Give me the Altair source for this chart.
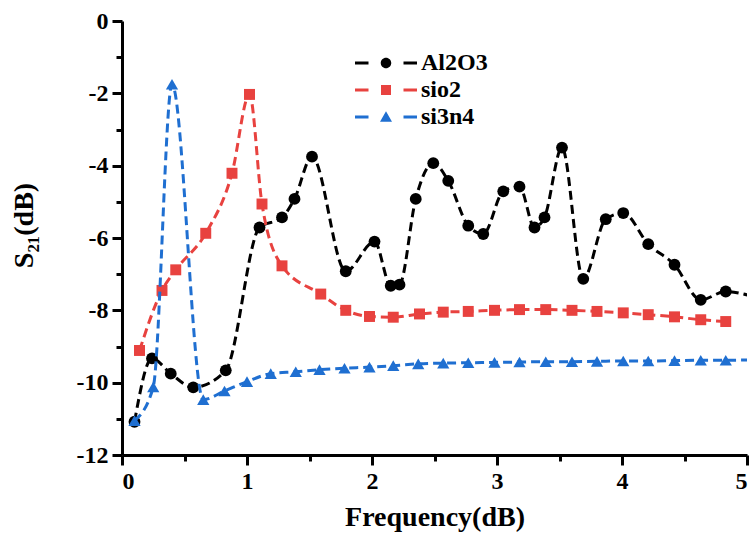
import altair as alt
import pandas as pd

# ---------------- data ----------------
series_names = ["Al2O3", "sio2", "si3n4"]
series_colors = ["#000000", "#E8423F", "#1F6FD1"]
series_shapes = ["circle", "square", "triangle-up"]

al2o3_x = [0.10, 0.24, 0.39, 0.57, 0.83, 1.10, 1.28, 1.38, 1.52, 1.79, 2.02, 2.15, 2.22,
           2.35, 2.49, 2.61, 2.77, 2.89, 3.05, 3.18, 3.30, 3.38, 3.52, 3.69, 3.87, 4.01,
           4.21, 4.42, 4.63, 4.83]
al2o3_y = [-11.08, -9.33, -9.75, -10.13, -9.66, -5.71, -5.43, -4.92, -3.75, -6.92, -6.10,
           -7.32, -7.29, -4.92, -3.93, -4.42, -5.66, -5.89, -4.71, -4.58, -5.71, -5.43,
           -3.50, -7.13, -5.48, -5.31, -6.17, -6.74, -7.71, -7.48]
al2o3_tail_x = [5.05]
al2o3_tail_y = [-7.62]

sio2_x = [0.14, 0.32, 0.43, 0.67, 0.88, 1.02, 1.12, 1.28, 1.59, 1.79, 1.98, 2.17, 2.38,
          2.57, 2.77, 2.98, 3.18, 3.39, 3.60, 3.80, 4.01, 4.21, 4.42, 4.63, 4.83]
sio2_y = [-9.11, -7.45, -6.88, -5.87, -4.21, -2.03, -5.06, -6.77, -7.55, -8.00, -8.17,
          -8.19, -8.10, -8.05, -8.03, -8.00, -7.98, -7.98, -8.00, -8.03, -8.07, -8.12,
          -8.18, -8.26, -8.31]
sio2_tail_x = []
sio2_tail_y = []

si3n4_x = [0.10, 0.25, 0.40, 0.65, 0.82, 1.00, 1.19, 1.39, 1.58, 1.78, 1.98, 2.17, 2.37,
           2.57, 2.77, 2.98, 3.18, 3.39, 3.60, 3.80, 4.01, 4.21, 4.42, 4.63, 4.83]
si3n4_y = [-11.05, -10.12, -1.75, -10.47, -10.23, -9.97, -9.75, -9.70, -9.64, -9.60, -9.57,
           -9.53, -9.48, -9.46, -9.45, -9.44, -9.43, -9.42, -9.42, -9.41, -9.40, -9.40,
           -9.39, -9.38, -9.38]
si3n4_tail_x = [5.05]
si3n4_tail_y = [-9.37]

x_ticks = [0, 0.5, 1, 1.5, 2, 2.5, 3, 3.5, 4, 4.5, 5]
y_ticks = [-12, -11, -10, -9, -8, -7, -6, -5, -4, -3, -2, -1, 0]

# legend glyphs: dash - marker - dash (custom symbol paths)
dash_path = "M-6.2,-0.3H-3.5V0.3H-6.2Z M3.5,-0.3H6.2V0.3H3.5Z "
legend_paths = [
    dash_path + "M1.05,0A1.05,1.05,0,1,1,-1.05,0A1.05,1.05,0,1,1,1.05,0Z",
    dash_path + "M-1,-1H1V1H-1Z",
    dash_path + "M0,-1.15L1.2,0.95L-1.2,0.95Z",
]

rows = []
for name, xs, ys, txs, tys in [
    ("Al2O3", al2o3_x, al2o3_y, al2o3_tail_x, al2o3_tail_y),
    ("sio2", sio2_x, sio2_y, sio2_tail_x, sio2_tail_y),
    ("si3n4", si3n4_x, si3n4_y, si3n4_tail_x, si3n4_tail_y),
]:
    for x, y in zip(xs, ys):
        rows.append({"series": name, "freq": x, "s21": y, "marker": True})
    for x, y in zip(txs, tys):
        rows.append({"series": name, "freq": x, "s21": y, "marker": False})
df = pd.DataFrame(rows)

FONT = "Liberation Serif"

x_enc = alt.X(
    "freq:Q",
    scale=alt.Scale(domain=[0, 5], nice=False, zero=False),
    axis=alt.Axis(
        values=x_ticks,
        labelExpr="datum.value % 1 === 0 ? toString(datum.value) : ''",
        tickSize={"condition": {"test": "datum.value % 1 === 0", "value": 10}, "value": 6},
        title="Frequency(dB)",
        labelPadding=4,
        titlePadding=10,
    ),
)
y_enc = alt.Y(
    "s21:Q",
    scale=alt.Scale(domain=[-12, 0], nice=False, zero=False),
    axis=alt.Axis(
        values=y_ticks,
        labelExpr="datum.value % 2 === 0 ? toString(datum.value) : ''",
        tickSize={"condition": {"test": "datum.value % 2 === 0", "value": 10}, "value": 6},
        title="S₂₁(dB)",
        labelPadding=4,
        titlePadding=38,
        titleY=204,
    ),
)

layers = []
sizes = {"circle": 140, "square": 120, "triangle-up": 150}
for name, color, shape in zip(series_names, series_colors, series_shapes):
    line = (
        alt.Chart(df)
        .transform_filter(alt.datum.series == name)
        .mark_line(color=color, strokeWidth=3, strokeDash=[9, 5],
                   interpolate="monotone", clip=True)
        .encode(x=x_enc, y=y_enc, order="freq:Q")
    )
    pts = (
        alt.Chart(df)
        .transform_filter((alt.datum.series == name) & alt.datum.marker)
        .mark_point(shape=shape, filled=True, size=sizes[shape], color=color,
                    opacity=1, clip=True)
        .encode(x=x_enc, y=y_enc)
    )
    layers += [line, pts]

legend = alt.Legend(
    title=None,
    orient="none",
    legendX=252,
    legendY=30,
    labelFont=FONT,
    labelFontSize=24,
    labelFontWeight="bold",
    labelColor="black",
    symbolSize=100,
    symbolStrokeWidth=0,
    symbolOpacity=1,
    labelOffset=23,
    rowPadding=3,
    padding=0,
)
legend_df = pd.DataFrame({"series": series_names})
legend_layer = (
    alt.Chart(legend_df)
    .transform_filter("false")
    .mark_point(filled=True, opacity=1)
    .encode(
        color=alt.Color("series:N", scale=alt.Scale(domain=series_names, range=series_colors),
                        legend=legend),
        shape=alt.Shape("series:N", scale=alt.Scale(domain=series_names, range=legend_paths),
                        legend=legend),
    )
)

chart = (
    alt.layer(*layers, legend_layer)
    .properties(
        width=625,
        height=434,
        autosize=alt.AutoSizeParams(type="none"),
        padding={"left": 122, "top": 21, "right": 7, "bottom": 80},
        background="white",
    )
    .configure_view(strokeWidth=0)
    .configure_axis(
        grid=False,
        domainColor="black",
        domainWidth=3,
        tickColor="black",
        tickWidth=3,
        labelFont=FONT,
        labelFontSize=24,
        labelFontWeight="bold",
        labelColor="black",
        labelOverlap=False,
        titleFont=FONT,
        titleFontSize=28,
        titleFontWeight="bold",
        titleColor="black",
    )
)

chart.save("out.html", embed_options={"renderer": "svg", "actions": False})
